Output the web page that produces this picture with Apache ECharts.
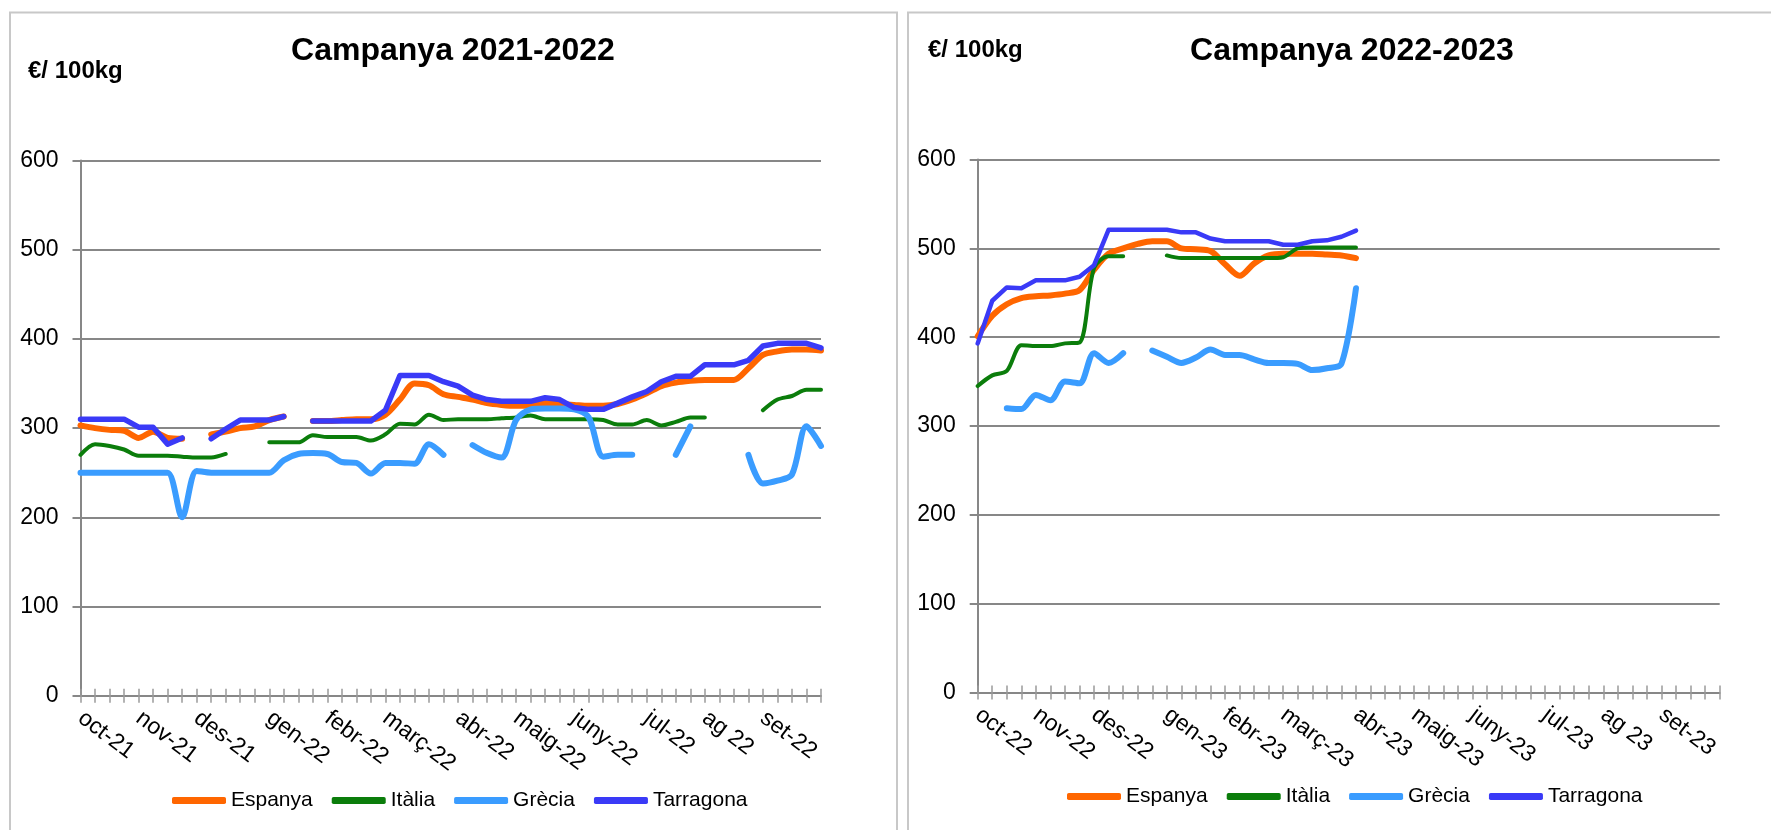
<!DOCTYPE html>
<html>
<head>
<meta charset="utf-8">
<script src="https://cdn.jsdelivr.net/npm/echarts@6/dist/echarts.min.js"></script>
<style>
html,body{margin:0;padding:0;background:#fff;}
#c{width:1771px;height:830px;}
</style>
</head>
<body>
<div id="c"></div>
<script>
// ---- DATA ----
const weeks = ['1','2','3','4','5','6','7','8','9','10','11','12','13','14','15','16','17','18','19','20','21','22','23','24','25','26',
               '27','28','29','30','31','32','33','34','35','36','37','38','39','40','41','42','43','44','45','46','47','48','49','50','51','52'];
const monthLabels2122 = ['oct-21','nov-21','des-21','gen-22','febr-22','març-22','abr-22','maig-22','juny-22','jul-22','ag 22','set-22'];
const monthLabels2223 = ['oct-22','nov-22','des-22','gen-23','febr-23','març-23','abr-23','maig-23','juny-23','jul-23','ag 23','set-23'];
const labelWeeks = [0,4,8,13,17,21,26,30,34,39,43,47];
const seriesNames = ['Espanya','Itàlia','Grècia','Tarragona'];

// Campanya 2021-2022
const espanya2122 = [303,300,298,297,289,296,289,288,null,293,296,300,302,309,313,null,308,308,309,310,310,315,332,350,348,338,335,332,328,326,325,325,328,327,326,325,325,327,332,339,347,351,353,354,354,354,367,382,386,388,388,387];
const italia2122 = [270,282,280,276,269,269,269,268,267,267,271,null,null,284,284,284,292,290,290,290,286,293,305,304,315,309,310,310,310,311,312,314,310,310,310,310,309,304,304,309,303,307,312,312,null,null,null,320,332,336,343,343];
const grecia2122 = [250,250,250,250,250,250,250,200,252,250,250,250,250,250,264,271,272,271,262,261,249,261,261,260,282,270,null,281,272,267,309,321,322,322,321,312,268,270,270,null,null,270,302,null,null,null,270,238,241,248,302,280];
const tarragona2122 = [310,310,310,310,301,301,282,289,null,288,299,309,309,309,313,null,308,308,308,308,308,320,359,359,359,352,347,337,332,330,330,330,334,332,323,321,321,328,335,341,352,358,358,371,371,371,376,392,395,395,395,390];

// Campanya 2022-2023
const espanya2223 = [401,424,437,444,446,447,449,453,476,494,500,505,508,508,500,499,497,482,469,483,492,494,494,494,493,492,489];
const italia2223 = [345,357,362,391,390,390,393,394,478,491,491,null,null,492,489,489,489,489,489,489,489,490,500,501,501,501,501];
const grecia2223 = [null,null,320,319,335,329,350,348,382,371,382,null,385,378,371,377,386,380,380,375,371,371,370,363,365,370,455];
const tarragona2223 = [393,441,456,455,464,464,464,468,481,521,521,521,521,521,518,518,511,508,508,508,508,504,504,508,509,513,520];

// ---- STYLE ----
const FONT = '"Liberation Sans", Arial, sans-serif';
const colors = {Espanya:'#ff6600', 'Itàlia':'#0b7d0b', 'Grècia':'#3a9cff', Tarragona:'#3a3af7'};
const GRID_COLOR = '#878787';

const chart = echarts.init(document.getElementById('c'), null, {renderer:'canvas'});

function xAxesFor(gridIndex, labels) {
  return [{
    gridIndex, type:'category', data:weeks, boundaryGap:false, position:'bottom',
    axisLine:{show:true, onZero:false, lineStyle:{color:GRID_COLOR, width:2}},
    axisTick:{show:true, interval:0, length:7, lineStyle:{color:'#9a9a9a', width:1.5}},
    axisLabel:{
      show:true,
      interval:(idx) => labelWeeks.indexOf(idx) >= 0,
      formatter:(val, idx) => { const k = labelWeeks.indexOf(idx); return k >= 0 ? labels[k] : ''; },
      rotate:-37, margin:20, fontSize:23, color:'#000', fontFamily:FONT
    },
    splitLine:{show:false}
  },{
    gridIndex, type:'category', data:weeks, boundaryGap:false, position:'bottom',
    axisLine:{show:false, onZero:false},
    axisTick:{show:true, inside:true, interval:0, length:7, lineStyle:{color:'#9a9a9a', width:1.5}},
    axisLabel:{show:false},
    splitLine:{show:false}
  }];
}
function yAxisFor(gridIndex) {
  return {
    gridIndex, type:'value', min:0, max:600, interval:100,
    axisLine:{show:true, lineStyle:{color:GRID_COLOR, width:2}},
    axisTick:{show:true, length:8, lineStyle:{color:GRID_COLOR, width:2}},
    axisLabel:{margin:22, fontSize:23, color:'#000', fontFamily:FONT},
    splitLine:{show:true, lineStyle:{color:GRID_COLOR, width:2}}
  };
}
function lineSeries(name, data, axisIdx, width, smooth) {
  return {
    name, type:'line', data, xAxisIndex:axisIdx*2, yAxisIndex:axisIdx,
    symbol:'none', smooth, connectNulls:false,
    itemStyle:{color:colors[name]},
    lineStyle:{color:colors[name], width, cap:'round', join:'round'},
    emphasis:{disabled:true}
  };
}

const legendCommon = {
  data:seriesNames, icon:'roundRect', itemWidth:54, itemHeight:7, itemGap:19, padding:0,
  textStyle:{fontSize:21, color:'#000', fontFamily:FONT}, selectedMode:false
};

const option = {
  animation:false,
  backgroundColor:'#fff',
  grid:[
    {left:80.5, top:160.5, width:740.5, height:535.2},
    {left:977.7, top:159.5, width:742, height:533}
  ],
  xAxis:[...xAxesFor(0, monthLabels2122), ...xAxesFor(1, monthLabels2223)],
  yAxis:[yAxisFor(0), yAxisFor(1)],
  legend:[
    Object.assign({left:172, top:790}, legendCommon),
    Object.assign({left:1067, top:786}, legendCommon)
  ],
  graphic:[
    {type:'rect', z:-10, shape:{x:10, y:12.5, width:887, height:840}, style:{fill:'none', stroke:'#c8c8c8', lineWidth:2}},
    {type:'rect', z:-10, shape:{x:908, y:12.5, width:900, height:840}, style:{fill:'none', stroke:'#c8c8c8', lineWidth:2}},
    {type:'text', x:453, y:51, style:{text:'Campanya 2021-2022', font:'bold 32px ' + FONT, fill:'#000', align:'center', verticalAlign:'middle'}},
    {type:'text', x:1352, y:51, style:{text:'Campanya 2022-2023', font:'bold 32px ' + FONT, fill:'#000', align:'center', verticalAlign:'middle'}},
    {type:'text', x:28, y:71, style:{text:'€/ 100kg', font:'bold 24px ' + FONT, fill:'#000', align:'left', verticalAlign:'middle'}},
    {type:'text', x:928, y:50, style:{text:'€/ 100kg', font:'bold 24px ' + FONT, fill:'#000', align:'left', verticalAlign:'middle'}}
  ],
  series:[
    lineSeries('Espanya', espanya2122, 0, 6, 0.3),
    lineSeries('Itàlia', italia2122, 0, 4, 0.3),
    lineSeries('Grècia', grecia2122, 0, 6, 0.3),
    lineSeries('Tarragona', tarragona2122, 0, 5.5, false),
    lineSeries('Espanya', espanya2223, 1, 6, 0.3),
    lineSeries('Itàlia', italia2223, 1, 4, 0.3),
    lineSeries('Grècia', grecia2223, 1, 6, 0.3),
    lineSeries('Tarragona', tarragona2223, 1, 4.5, false)
  ]
};
chart.setOption(option);
</script>
</body>
</html>
